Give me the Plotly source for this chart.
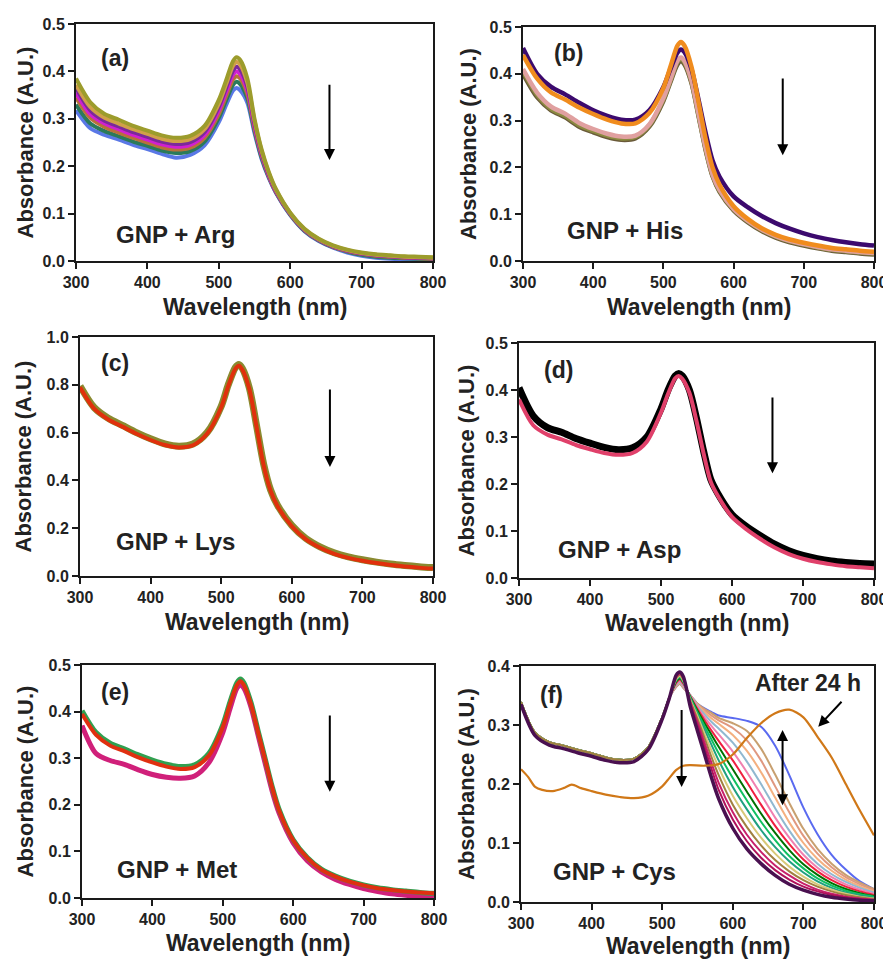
import plotly.graph_objects as go

# ---------------- data ----------------
WL = [300, 320, 340, 360, 380, 400, 420, 440, 460, 480, 500, 510, 520, 525, 530,
      540, 550, 560, 570, 580, 600, 620, 640, 660, 680, 700, 720, 740, 760, 780, 800]

# (a) GNP + Arg
A_BLUE = [.318, .28, .266, .256, .245, .236, .226, .218, .224, .244, .293, .328, .36, .365, .36, .334, .27, .215, .175, .144, .097, .063, .042, .028, .018, .011, .007, .005, .004, .004, .004]
A_GREEN = [.33, .29, .274, .263, .252, .243, .233, .228, .232, .252, .302, .338, .372, .378, .373, .343, .275, .218, .177, .145, .098, .064, .043, .029, .02, .013, .009, .007, .006, .005, .004]
A_BROWN = [.345, .302, .283, .271, .26, .25, .24, .235, .239, .26, .31, .347, .383, .39, .385, .352, .28, .222, .179, .146, .099, .065, .044, .03, .021, .015, .011, .009, .007, .006, .005]
A_MAGENTA = [.355, .31, .29, .278, .266, .256, .246, .241, .245, .266, .318, .356, .393, .40, .394, .36, .285, .225, .181, .147, .10, .066, .045, .031, .022, .016, .012, .01, .008, .007, .006]
A_PURPLE = [.365, .318, .296, .284, .272, .262, .252, .247, .251, .272, .325, .364, .402, .41, .404, .368, .29, .228, .183, .148, .10, .066, .045, .031, .022, .016, .012, .01, .008, .007, .006]
A_TAN = [.372, .325, .302, .29, .278, .268, .258, .253, .257, .278, .332, .372, .412, .42, .414, .376, .296, .232, .186, .15, .101, .067, .046, .032, .023, .017, .013, .011, .009, .008, .007]
A_OLIVE = [.385, .335, .31, .298, .285, .275, .265, .26, .264, .285, .34, .38, .422, .43, .424, .385, .30, .235, .188, .152, .102, .068, .047, .033, .024, .018, .014, .012, .01, .009, .008]
A_SERIES = [A_BLUE, A_GREEN, A_BROWN, A_MAGENTA, A_PURPLE, A_TAN, A_OLIVE]
A_COLORS = ["#5a78e6", "#2a7a5a", "#b8703a", "#d020d0", "#7a2a9a", "#d0a048", "#9c9c2c"]

# (b) GNP + His
B_BROWN = [.40, .35, .322, .307, .287, .275, .265, .259, .262, .287, .342, .382, .42, .427, .42, .38, .31, .238, .181, .148, .108, .083, .064, .05, .04, .033, .027, .022, .019, .016, .014]
B_OLIVE = [.405, .355, .325, .31, .29, .278, .268, .262, .265, .29, .345, .385, .425, .432, .424, .383, .312, .24, .183, .15, .11, .085, .066, .052, .042, .035, .029, .024, .021, .018, .016]
B_PINK = [.41, .36, .33, .315, .295, .282, .272, .266, .268, .292, .348, .388, .428, .435, .427, .386, .315, .243, .185, .152, .111, .086, .067, .053, .043, .036, .03, .025, .022, .019, .017]
B_ORANGE = [.44, .39, .36, .345, .328, .314, .302, .294, .294, .316, .37, .415, .46, .468, .46, .415, .34, .262, .20, .163, .117, .09, .07, .056, .046, .039, .033, .028, .025, .022, .02]
B_PURPLE = [.455, .40, .372, .356, .338, .322, .31, .302, .302, .322, .372, .41, .445, .452, .446, .41, .345, .275, .215, .18, .138, .115, .096, .081, .069, .059, .051, .045, .04, .036, .033]
B_SERIES = [B_BROWN, B_OLIVE, B_PINK, B_PURPLE, B_ORANGE]
B_COLORS = ["#6a5a3a", "#8a8a40", "#e0a0a0", "#3c0a6e", "#f08c1e"]

# (c) GNP + Lys
C_OLIVE = [.795, .705, .66, .63, .60, .574, .553, .543, .552, .60, .71, .80, .872, .885, .868, .785, .63, .47, .36, .295, .212, .157, .122, .097, .08, .068, .058, .05, .044, .039, .035]
C_RED = [.79, .70, .655, .625, .595, .569, .548, .538, .547, .595, .705, .795, .867, .88, .863, .78, .625, .465, .356, .291, .208, .153, .118, .093, .076, .064, .054, .046, .04, .035, .031]

# (d) GNP + Asp
D_BLACK = [.405, .345, .32, .31, .297, .287, .278, .273, .277, .30, .36, .40, .43, .435, .43, .40, .34, .27, .21, .18, .135, .11, .09, .072, .058, .048, .041, .036, .033, .031, .03]
D_PINK = [.38, .325, .305, .295, .283, .274, .266, .262, .266, .29, .352, .392, .425, .43, .424, .394, .334, .265, .205, .175, .13, .104, .083, .065, .051, .041, .034, .029, .025, .023, .021]

# (e) GNP + Met
E_MAGENTA = [.37, .31, .295, .287, .275, .265, .259, .257, .262, .29, .355, .405, .45, .458, .45, .41, .35, .29, .23, .182, .118, .08, .056, .04, .029, .02, .014, .009, .006, .004, .003]
E_GREEN = [.402, .355, .332, .32, .307, .296, .287, .282, .286, .31, .372, .42, .462, .47, .462, .42, .36, .30, .24, .19, .125, .087, .062, .047, .036, .028, .022, .018, .015, .012, .01]
E_RED = [.395, .35, .327, .315, .302, .291, .282, .277, .281, .305, .367, .415, .457, .465, .457, .416, .357, .298, .238, .188, .124, .086, .061, .046, .035, .027, .021, .017, .014, .012, .01]

# (f) GNP + Cys : UV part (300-510 nm) and per-curve tails (520-800 nm)
F_UV_DARK = [.335, .282, .266, .26, .253, .247, .24, .236, .238, .258, .31, .345]
F_UV_LIGHT = [.339, .287, .271, .265, .258, .252, .245, .241, .243, .262, .313, .346]
F_TAILS = [
    [.385, .39, .382, .33, .29, .25, .21, .175, .125, .09, .065, .045, .03, .02, .013, .008, .005, .003, .002],
    [.384, .389, .381, .335, .30, .262, .225, .19, .14, .103, .075, .054, .038, .026, .018, .012, .008, .005, .003],
    [.382, .387, .379, .338, .305, .27, .235, .202, .152, .114, .085, .062, .045, .031, .021, .014, .009, .006, .004],
    [.38, .385, .377, .34, .31, .278, .245, .215, .165, .127, .096, .071, .052, .037, .026, .018, .012, .008, .005],
    [.378, .383, .375, .342, .315, .285, .256, .228, .18, .142, .109, .082, .06, .043, .03, .021, .014, .009, .006],
    [.377, .382, .374, .344, .318, .292, .266, .24, .195, .157, .122, .093, .069, .05, .035, .024, .016, .011, .007],
    [.376, .381, .373, .346, .321, .298, .275, .252, .21, .172, .136, .105, .078, .057, .04, .028, .019, .013, .009],
    [.374, .379, .372, .347, .324, .303, .283, .263, .225, .187, .15, .117, .088, .064, .046, .032, .022, .015, .01],
    [.372, .377, .37, .348, .327, .308, .29, .273, .24, .203, .165, .129, .098, .072, .052, .037, .026, .018, .012],
    [.37, .375, .368, .349, .33, .313, .298, .284, .255, .22, .182, .143, .109, .08, .058, .042, .03, .021, .014],
    [.368, .373, .366, .35, .332, .318, .305, .294, .27, .238, .20, .159, .121, .089, .065, .047, .034, .024, .016],
    [.367, .372, .365, .35, .334, .322, .311, .302, .283, .256, .22, .177, .135, .10, .073, .053, .038, .027, .018],
    [.366, .371, .364, .35, .335, .325, .316, .308, .295, .274, .24, .196, .152, .112, .082, .059, .042, .03, .02],
    [.365, .37, .363, .35, .336, .327, .32, .312, .303, .29, .26, .216, .168, .124, .09, .065, .046, .033, .022],
    [.365, .37, .363, .35, .336, .328, .322, .316, .312, .307, .297, .265, .215, .16, .115, .08, .055, .035, .022],
]
F_COLORS = ["#4a1050", "#b0105a", "#c8206a", "#a08040", "#d8c878", "#20a080", "#10c060",
            "#007000", "#f02040", "#f080b0", "#90b8d0", "#f4b080", "#e09880", "#c8a070", "#5a6af0"]
WL_24H = [300, 310, 320, 330, 345, 360, 372, 385, 400, 420, 440, 460, 480, 500, 510, 520, 530,
          540, 560, 580, 600, 620, 640, 660, 680, 700, 720, 740, 760, 780, 800]
F_24H = [.225, .212, .195, .19, .188, .193, .199, .193, .188, .182, .178, .176, .18, .196, .21, .224, .231,
         .232, .231, .234, .25, .278, .303, .32, .326, .313, .28, .245, .20, .155, .113]

PANEL_TAGS = ["(a)", "(b)", "(c)", "(d)", "(e)", "(f)"]
PANEL_NAMES = ["GNP + Arg", "GNP + His", "GNP + Lys", "GNP + Asp", "GNP + Met", "GNP + Cys"]

# ---------------- figure ----------------
OFF = 8                      # page body margin of the browser
W, H = 891 - OFF, 959 - OFF
FONT = "Liberation Sans, Arial, sans-serif"
AXC = "#1a1a1a"

fig = go.Figure()


def px_x(p):
    return (p - OFF) / W


def px_y(p):
    return 1 - (p - OFF) / H


def sfx(i):
    return "" if i == 0 else str(i + 1)


# panel pixel boxes (page pixels): left, right, top, bottom
BOX = [(76, 433, 24, 261), (523, 874, 27, 261),
       (80, 433, 337, 576), (519, 874, 343, 578),
       (82, 434, 665, 898), (521, 874, 666, 902)]
YMAX = [0.5, 0.5, 1.0, 0.5, 0.5, 0.4]
YDTICK = [0.1, 0.1, 0.2, 0.1, 0.1, 0.1]


def add(i, x, y, color, width):
    fig.add_trace(go.Scatter(x=x, y=y, mode="lines",
                             line=dict(color=color, width=width, shape="spline", smoothing=0.8),
                             xaxis="x" + sfx(i), yaxis="y" + sfx(i), showlegend=False, hoverinfo="skip"))


for s, c in zip(A_SERIES, A_COLORS):
    add(0, WL, s, c, 4)
for s, c in zip(B_SERIES, B_COLORS):
    add(1, WL, s, c, 4.5)
add(2, WL, C_OLIVE, "#8a8a30", 7)
add(2, WL, C_RED, "#e0300c", 4)
add(3, WL, D_BLACK, "#000000", 7)
add(3, WL, D_PINK, "#e0406a", 4)
add(4, WL, E_MAGENTA, "#d0207a", 5)
add(4, WL, E_GREEN, "#30a050", 5)
add(4, WL, E_RED, "#e03010", 4)
for k in range(len(F_TAILS) - 1, -1, -1):
    uv = F_UV_DARK if k < 3 else F_UV_LIGHT
    add(5, WL, uv + F_TAILS[k], F_COLORS[k], 3.5 if k == 0 else 2)
add(5, WL_24H, F_24H, "#d07818", 2.2)

tickfont = dict(family=FONT, size=16, color="#222", weight="bold")
annotations = []
layout_axes = {}
for i, (l, r, t, b) in enumerate(BOX):
    s = sfx(i)
    layout_axes["xaxis" + s] = dict(domain=[px_x(l), px_x(r)], anchor="y" + s, range=[300, 800], automargin=False,
                                    tickvals=[300, 400, 500, 600, 700, 800], ticks="outside", ticklen=6, tickwidth=2,
                                    tickcolor=AXC, showline=True, linecolor=AXC, linewidth=2, mirror=True,
                                    showgrid=False, zeroline=False, tickfont=tickfont, fixedrange=True,
                                    ticklabeloverflow="allow")
    layout_axes["yaxis" + s] = dict(domain=[px_y(b), px_y(t)], anchor="x" + s, range=[0, YMAX[i]], automargin=False,
                                    dtick=YDTICK[i], tick0=0, tickformat=".1f", ticks="outside", ticklen=6,
                                    tickwidth=2, tickcolor=AXC, showline=True, linecolor=AXC, linewidth=2,
                                    mirror=True, showgrid=False, zeroline=False, tickfont=tickfont, fixedrange=True,
                                    ticklabeloverflow="allow")

# axis titles (page pixel positions)
XT_Y = [307, 307, 622, 623, 943, 946]
YT_X = [25, 468, 23, 466, 25, 466]
for i in range(6):
    s = sfx(i)
    annotations.append(dict(text="<b>Wavelength (nm)</b>", xref="x" + s + " domain", yref="paper", x=0.5,
                            y=px_y(XT_Y[i]), showarrow=False, font=dict(family=FONT, size=23, color="#222"),
                            xanchor="center", yanchor="middle"))
    annotations.append(dict(text="<b>Absorbance (A.U.)</b>", xref="paper", yref="y" + s + " domain",
                            x=px_x(YT_X[i]), y=0.5, textangle=-90, showarrow=False,
                            font=dict(family=FONT, size=22, color="#222"), xanchor="center", yanchor="middle"))

# panel tags and names (data coordinates)
TAG_POS = [(355, .428), (365, .444), (350, .89), (355, .443), (347, .443), (343, .351)]
NAME_POS = [(439, .055), (446, .066), (435, .1435), (441, .06), (435, .0616), (433, .0514)]
for i in range(6):
    s = sfx(i)
    annotations.append(dict(text=f"<b>{PANEL_TAGS[i]}</b>", xref="x" + s, yref="y" + s, x=TAG_POS[i][0],
                            y=TAG_POS[i][1], showarrow=False, font=dict(family=FONT, size=23, color="#222")))
    annotations.append(dict(text=f"<b>{PANEL_NAMES[i]}</b>", xref="x" + s, yref="y" + s, x=NAME_POS[i][0],
                            y=NAME_POS[i][1], showarrow=False, font=dict(family=FONT, size=24, color="#222")))

# arrows: (panel, x, y_tail, y_head, both)
ARROWS = [(0, 655, .375, .213, False), (1, 670, .393, .226, False), (2, 654, .787, .456, False),
          (3, 657, .387, .223, False), (4, 652, .395, .228, False), (5, 527.5, .328, .195, False),
          (5, 670.5, .294, .164, True)]
for p, x, y0, y1, both in ARROWS:
    s = sfx(p)
    annotations.append(dict(text="", xref="x" + s, yref="y" + s, axref="x" + s, ayref="y" + s, x=x, y=y1, ax=x,
                            ay=y0, showarrow=True, arrowhead=2, arrowsize=1.1, arrowwidth=2, arrowcolor="#000",
                            arrowside="end+start" if both else "end", startarrowhead=2, startarrowsize=1.1))

annotations.append(dict(text="<b>After 24 h</b>", xref="x6", yref="y6", x=706, y=.371, showarrow=False,
                        font=dict(family=FONT, size=23, color="#222")))
annotations.append(dict(text="", xref="x6", yref="y6", axref="x6", ayref="y6", x=721, y=.297, ax=756, ay=.342,
                        showarrow=True, arrowhead=2, arrowsize=1.1, arrowwidth=2, arrowcolor="#000"))

fig.update_layout(width=W, height=H, margin=dict(l=0, r=0, t=0, b=0, autoexpand=False), paper_bgcolor="white",
                  plot_bgcolor="white", annotations=annotations, showlegend=False, **layout_axes)

fig.write_html("out.html")
